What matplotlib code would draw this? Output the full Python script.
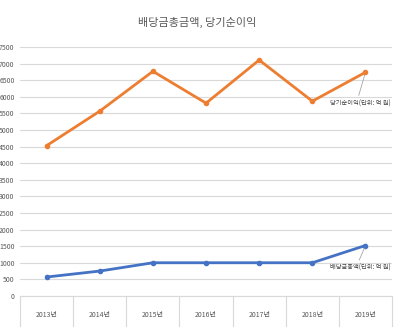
import matplotlib.pyplot as plt
import numpy as np

plt.rcParams['font.family'] = ['Noto Sans CJK KR', 'DejaVu Sans']

years = ['2013년', '2014년', '2015년', '2016년', '2017년', '2018년', '2019년']
net_income = [4530, 5570, 6770, 5810, 7110, 5870, 6740]
dividends = [570, 750, 1000, 1000, 1000, 1000, 1520]

fig = plt.figure(figsize=(3.94, 3.27), dpi=100)
ax = fig.add_axes([0.051, 0.095, 0.944, 0.761])

x = np.arange(len(years))
ax.plot(x, net_income, color='#ED7D31', lw=2, marker='o', ms=3)
ax.plot(x, dividends, color='#4472C4', lw=2, marker='o', ms=3)

ax.set_xlim(-0.5, len(years) - 0.5)
ax.set_ylim(0, 7500)
ax.set_yticks(np.arange(0, 7501, 500))
ax.set_xticks(x)
ax.set_xticklabels(years)
ax.set_xticks(np.arange(-0.5, len(years), 1), minor=True)
ax.tick_params(axis='x', which='major', length=0, labelsize=5, colors='#595959', pad=11)
ax.tick_params(axis='x', which='minor', length=30, color='#D9D9D9', width=0.8)
ax.tick_params(axis='y', length=0, labelsize=5, colors='#595959', pad=4)
ax.grid(axis='y', color='#D9D9D9', lw=0.8)
for s in ['top', 'right', 'left']:
    ax.spines[s].set_visible(False)
ax.spines['bottom'].set_color('#D9D9D9')

# data labels with leader lines, like excel
ax.annotate('당기순이익(단위: 억 원)', xy=(x[-1], net_income[-1]),
            xytext=(len(years) - 0.52, 5800), fontsize=4.5, color='#404040',
            ha='right', va='center',
            arrowprops=dict(arrowstyle='-', color='#A6A6A6', lw=0.6,
                            relpos=(0.45, 1.0), shrinkA=1, shrinkB=2))
ax.annotate('배당금총액(단위: 억 원)', xy=(x[-1], dividends[-1]),
            xytext=(len(years) - 0.52, 840), fontsize=4.5, color='#404040',
            ha='right', va='center',
            arrowprops=dict(arrowstyle='-', color='#A6A6A6', lw=0.6,
                            relpos=(0.45, 1.0), shrinkA=1, shrinkB=2))

fig.text(0.5, 0.93, '배당금총금액, 당기순이익', ha='center', va='center', fontsize=8, color='#595959')

fig.savefig('out.png', dpi=100)
